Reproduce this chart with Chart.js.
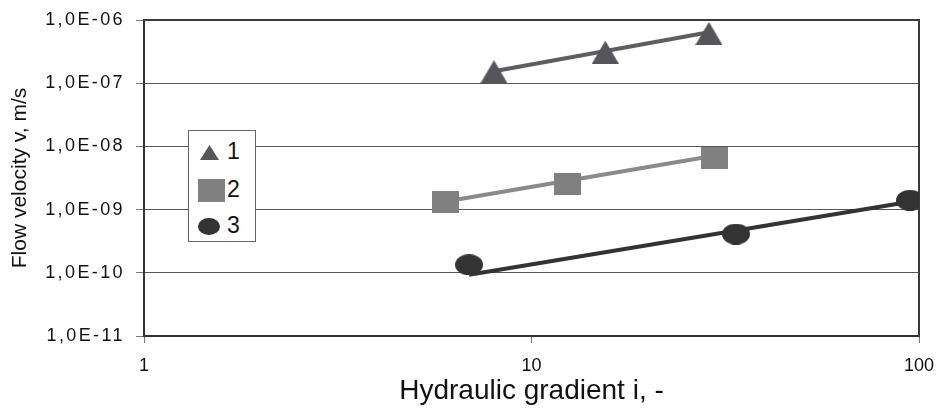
<!DOCTYPE html>
<html>
<head>
<meta charset="utf-8">
<script src="https://cdn.jsdelivr.net/npm/chart.js@4/dist/chart.umd.min.js"></script>
<style>
  html, body { margin: 0; padding: 0; background: #fff; }
  #wrap { position: relative; width: 941px; height: 409px; }
  canvas#chart { display: block; }
  #legend {
    position: absolute; left: 188px; top: 130px; width: 68px; height: 112px;
    box-sizing: border-box; border: 1px solid #666; background: #fff;
    font-family: "Liberation Sans", Arial, sans-serif; font-size: 23px; color: #111;
  }
  #legend .item { position: absolute; left: 0; width: 100%; height: 30px; }
  #legend .item canvas { position: absolute; }
  #legend .item span { position: absolute; left: 38px; top: 50%; transform: translateY(-52%); line-height: 1; }
</style>
</head>
<body>
<div id="wrap">
  <canvas id="chart" width="941" height="409"></canvas>
  <div id="legend"></div>
</div>
<script>
// Measured samples: hydraulic gradient i (-) and flow velocity v (m/s)
const seriesNames = ['1', '2', '3'];
const gradient1 = [8.0, 15.5, 28.7];
const velocity1 = [1.52e-7, 3.1e-7, 6.15e-7];
const gradient2 = [6.0, 12.4, 29.6];
const velocity2 = [1.34e-9, 2.5e-9, 6.65e-9];
const gradient3 = [6.9, 33.7, 94.8];
const velocity3 = [1.34e-10, 4.1e-10, 1.4e-9];

// Power-law trend lines (end points)
const trendGradient1 = [8.0, 28.7];
const trendVelocity1 = [1.55e-7, 6.4e-7];
const trendGradient2 = [6.0, 29.6];
const trendVelocity2 = [1.34e-9, 7.1e-9];
const trendGradient3 = [6.9, 94.8];
const trendVelocity3 = [9.3e-11, 1.33e-9];

// Axis ticks
const xTickValues = [1, 10, 100];
const xTickLabels = ['1', '10', '100'];
const yTickValues = [1e-11, 1e-10, 1e-9, 1e-8, 1e-7, 1e-6];
const yTickLabels = ['1,0E-11', '1,0E-10', '1,0E-09', '1,0E-08', '1,0E-07', '1,0E-06'];

const FONT = '"Liberation Sans", Arial, sans-serif';
const colors = ['#56565a', '#808080', '#333333'];
const lineColors = ['#5e5e62', '#8a8a8a', '#333333'];

function marker(shape, w, h, color) {
  const c = document.createElement('canvas');
  c.width = w; c.height = h;
  const g = c.getContext('2d');
  g.fillStyle = color;
  g.beginPath();
  if (shape === 'triangle') {
    g.moveTo(w / 2, 0); g.lineTo(w, h); g.lineTo(0, h); g.closePath();
  } else if (shape === 'rect') {
    g.rect(0, 0, w, h);
  } else {
    g.ellipse(w / 2, h / 2, w / 2, h / 2, 0, 0, Math.PI * 2);
  }
  g.fill();
  return c;
}

const plotMarkers = [
  marker('triangle', 27, 23, colors[0]),
  marker('rect', 27, 22, colors[1]),
  marker('ellipse', 28, 21, colors[2])
];
const legendMarkers = [
  marker('triangle', 19, 15, colors[0]),
  marker('rect', 27, 23, colors[1]),
  marker('ellipse', 22, 17, colors[2])
];

function pts(xs, ys) { return xs.map((x, i) => ({ x: x, y: ys[i] })); }

const gradients = [gradient1, gradient2, gradient3];
const velocities = [velocity1, velocity2, velocity3];
const trendX = [trendGradient1, trendGradient2, trendGradient3];
const trendY = [trendVelocity1, trendVelocity2, trendVelocity3];

const datasets = [];
for (let k = 0; k < 3; k++) {
  datasets.push({
    label: seriesNames[k],
    data: pts(gradients[k], velocities[k]),
    pointStyle: plotMarkers[k],
    pointRadius: 6,
    pointHoverRadius: 6,
    showLine: false,
    order: 0
  });
  datasets.push({
    label: seriesNames[k] + ' trend',
    data: pts(trendX[k], trendY[k]),
    showLine: true,
    borderColor: lineColors[k],
    borderWidth: 4,
    pointRadius: 0,
    fill: false,
    order: 1
  });
}

// Frame on the top and right of the plot area
const plotFrame = {
  id: 'plotFrame',
  beforeDatasetsDraw(chart) {
    const a = chart.chartArea, c = chart.ctx;
    c.save();
    c.strokeStyle = '#3a3a3a';
    c.lineWidth = 2;
    c.beginPath();
    c.moveTo(a.left, a.top);
    c.lineTo(a.right, a.top);
    c.lineTo(a.right, a.bottom);
    c.stroke();
    c.restore();
  }
};

// Wider letter spacing for the velocity tick labels
const spacedLabels = {
  id: 'spacedLabels',
  beforeDraw(chart) {
    const s = chart.scales.y;
    if (s && !s._spaced) {
      const orig = s.drawLabels.bind(s);
      s.drawLabels = function (area) {
        const c = chart.ctx;
        c.save();
        c.letterSpacing = '2.4px';
        orig(area);
        c.restore();
      };
      s._spaced = true;
    }
  }
};

new Chart(document.getElementById('chart'), {
  type: 'scatter',
  data: { datasets: datasets },
  plugins: [plotFrame, spacedLabels],
  options: {
    responsive: false,
    animation: false,
    layout: { padding: { top: 20, right: 22, left: 0, bottom: 0 } },
    plugins: { legend: { display: false }, tooltip: { enabled: false } },
    scales: {
      x: {
        type: 'logarithmic',
        min: 1, max: 100,
        afterBuildTicks(scale) { scale.ticks = xTickValues.map(v => ({ value: v })); },
        afterFit(scale) { scale.height = 73; scale.paddingLeft = 0; scale.paddingRight = 0; },
        ticks: {
          callback(value) { const i = xTickValues.indexOf(value); return i >= 0 ? xTickLabels[i] : ''; },
          font: { family: FONT, size: 18 }, color: '#111', padding: 12, maxRotation: 0, autoSkip: false
        },
        grid: { drawOnChartArea: false, drawTicks: true, tickLength: 7, tickColor: '#777' },
        border: { color: '#333', width: 2 },
        title: {
          display: true, text: 'Hydraulic gradient i, -',
          font: { family: FONT, size: 28 }, color: '#111', padding: { top: 0, bottom: 1 }
        }
      },
      y: {
        type: 'logarithmic',
        min: 1e-11, max: 1e-6,
        afterBuildTicks(scale) { scale.ticks = yTickValues.map(v => ({ value: v })); },
        afterFit(scale) { scale.width = 144; scale.paddingTop = 0; scale.paddingBottom = 0; },
        ticks: {
          callback(value) {
            const i = yTickValues.findIndex(v => Math.abs(Math.log10(v) - Math.log10(value)) < 1e-6);
            return i >= 0 ? yTickLabels[i] : '';
          },
          font: { family: FONT, size: 18 }, color: '#111', padding: 11, autoSkip: false
        },
        grid: { color: '#555', lineWidth: 1, drawTicks: true, tickLength: 8, tickColor: '#777' },
        border: { color: '#333', width: 2 },
        title: {
          display: true, text: 'Flow velocity v, m/s',
          font: { family: FONT, size: 21 }, color: '#111', padding: { top: 8, bottom: 0 }
        }
      }
    }
  }
});

// Legend box
const legend = document.getElementById('legend');
const rowCentres = [21, 59, 95];
const markerCentres = [20, 22, 20];
for (let k = 0; k < 3; k++) {
  const item = document.createElement('div');
  item.className = 'item';
  item.style.top = (rowCentres[k] - 15) + 'px';
  const m = legendMarkers[k];
  const mc = document.createElement('canvas');
  mc.width = m.width; mc.height = m.height;
  mc.getContext('2d').drawImage(m, 0, 0);
  mc.style.left = (markerCentres[k] - m.width / 2) + 'px';
  mc.style.top = (15 - m.height / 2) + 'px';
  const t = document.createElement('span');
  t.textContent = seriesNames[k];
  item.appendChild(mc);
  item.appendChild(t);
  legend.appendChild(item);
}
</script>
</body>
</html>
